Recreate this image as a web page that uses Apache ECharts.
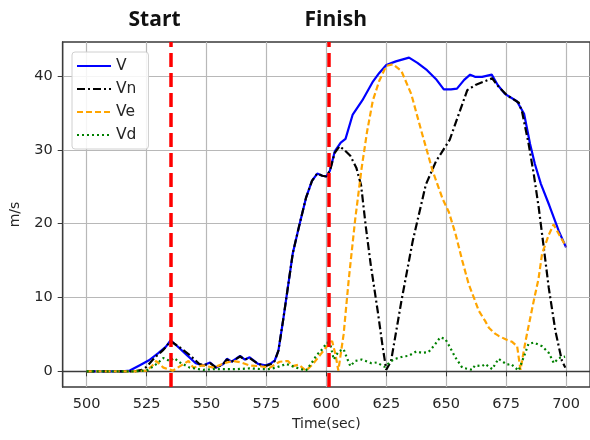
<!DOCTYPE html>
<html>
<head>
<meta charset="utf-8">
<script src="https://cdn.jsdelivr.net/npm/echarts@6/dist/echarts.min.js"></script>
<style>html,body{margin:0;padding:0;background:#fff}#c{width:590px;height:440px}</style>
</head>
<body>
<div id="c"></div>
<script>
// ---- data ----
const xTicks = [500, 525, 550, 575, 600, 625, 650, 675, 700];
const yTicks = [0, 10, 20, 30, 40];
const eventNames = ['Start', 'Finish'];
const eventTimes = [535, 601];

const tV = [500,505,510,515,518,522,526,530,533,535,537.5,541.5,545.5,548.5,551.5,554,557,558.5,560.5,564,566,568,571.5,574.5,577,578.5,580,582,584,586,588.5,591.5,594,596.2,598.3,600,601.5,603.5,606,608,611,615,619.5,622,625,629,634.5,638,642,646,649,652,654.5,657.5,660,662,665,669,671.5,674.5,679.5,682.5,685,687,689.5,693,697,700];
const V  = [0,0,0,0,0.1,0.8,1.5,2.5,3.3,4.2,3.5,2.3,1.1,0.8,1.2,0.5,1.0,1.7,1.3,2.1,1.6,1.9,1.0,0.8,1.1,1.5,2.8,7,11.5,16,19.5,23.5,25.8,26.8,26.5,26.4,27.2,29.8,31,31.5,34.8,36.7,39.3,40.4,41.5,42.0,42.5,41.8,40.8,39.5,38.2,38.2,38.3,39.5,40.2,39.9,39.9,40.2,38.8,37.6,36.6,34.9,30.8,28.1,25.4,22.5,19,16.8];

const tVn = [500,505,510,515,520,523,525,528.5,532,535,539,543,547,549,551.5,554,557,558.5,560.5,564,566,568,571.5,574.5,577,578.5,580,582,584,586,588.5,591.5,594,596.2,598.3,600,601.5,603.5,605.5,607.5,610,612.5,614.5,616.5,618.5,621.5,623.5,625,627,631.3,636,641.5,645.8,648,651.5,655.3,658.8,662.2,666,669.2,672,675.4,680.3,681.7,684.4,686.5,688.6,690.7,692.8,695.6,698.3,699.7];
const Vn  = [0,0,0,0,0,0.2,0.6,1.9,2.9,4.1,3.2,2.2,1.0,0.8,1.1,0.5,1.0,1.6,1.3,2.0,1.6,1.8,1.0,0.7,1.0,1.4,2.8,7,11.5,16,19.5,23.5,25.8,26.8,26.5,26.4,27.2,29.6,30.5,30.0,29.2,27.6,25.2,19.5,14.5,8.0,3.3,0.2,1.4,9.5,17.6,25.3,28.5,29.6,31.4,34.9,38.1,38.8,39.3,39.7,38.5,37.4,36.4,35.1,30.8,26.8,22.2,16.8,11.3,5.4,1.4,0.5];

const tVe = [500,505,510,515,520,525,527.5,529,532,536,539.5,542.5,544.5,548.5,553,557.5,561,564.5,568,572,576.5,580.5,584,586,588.5,591.5,594.2,597.6,600.5,602.4,603.8,605,607.2,609.3,612,614.7,617,619.4,622,625,627.8,631.3,635.4,639.6,644.4,648.6,651.1,653.9,656.7,659.4,662,663.6,666.3,667.8,670.4,671.9,675,677.5,679.6,681,683.1,686.5,688.5,690,692.8,694.8,697,700];
const Ve  = [0,0,0,0,0,0.1,0.8,1.4,0.5,0.1,0.8,1.4,0.5,0.8,0.5,1.1,1.4,1.2,0.8,0.7,0.5,1.3,1.4,0.7,0.9,0.1,0.9,2.3,3.5,4.1,2.3,0.1,5,12.3,20.5,27.5,32.5,36.7,39.3,41.4,41.6,40.7,37.6,32.6,27.1,23.3,21.6,18.6,15,11.8,9.6,8.2,6.8,5.9,5.1,4.8,4.3,4.0,3.4,0.2,4.1,9.5,12.5,15.9,18.5,19.9,18.6,16.9];

const tVd = [500,505,510,515,520,525,527,529.2,532,534.7,536.5,538.9,543,548.6,553,558,563,568,573,576,579,583.3,587.5,591.5,594,596,598.3,600.3,601.7,603.1,605.1,607.2,608.6,610,612,614.7,618.8,621,624.3,627.1,628.8,632,634.3,637.5,640,642.6,645,647.5,649.6,651,653.8,656.7,660.8,662,665,666.3,669.2,671.8,675.4,677,680.2,683,684.3,686.5,690,692.8,694.9,697,699.6];
const Vd  = [0,0,0,0,0,0.1,0.5,1,1.8,1.4,1.8,1.2,0.5,0.2,0.3,0.3,0.3,0.4,0.3,0.3,0.5,1,0.5,0.1,1.2,2.2,3.0,3.9,3.6,1.6,2.7,3.0,1.8,0.7,1.4,1.6,1.1,1.2,0.6,1.4,1.7,2,2.1,2.7,2.5,2.6,3.5,4.6,4.4,3.6,1.9,0.5,0.2,0.8,0.7,1.0,0.3,1.7,0.9,1.0,0.1,2.5,3.7,3.9,3.4,2.5,1.1,1.8,2.0];

const zip = (t, v) => t.map((x, i) => [x, v[i]]);

const chart = echarts.init(document.getElementById('c'), null, {renderer: 'canvas'});
const font = 'DejaVu Sans';
const dark = '#262626';

chart.setOption({
  animation: false,
  backgroundColor: '#fff',
  grid: {left: 62.7, top: 42, width: 528, height: 345, show: true, borderColor: '#3a3a3a', borderWidth: 1.3, backgroundColor: 'transparent'},
  legend: {
    data: ['V', 'Vn', 'Ve', 'Vd'],
    orient: 'vertical', left: 72, top: 52,
    itemWidth: 34, itemHeight: 12, itemGap: 7,
    padding: [6, 12, 6, 4],
    itemStyle: {opacity: 0},
    backgroundColor: 'rgba(255,255,255,0.85)', borderColor: '#d0d0d0', borderWidth: 1, borderRadius: 3,
    textStyle: {fontFamily: font, fontSize: 15.5, color: dark}
  },
  xAxis: {
    type: 'value', min: 490, max: 710,
    name: 'Time(sec)', nameLocation: 'middle', nameGap: 30,
    nameTextStyle: {fontFamily: font, fontSize: 14, color: dark},
    axisLine: {show: true, lineStyle: {color: '#3a3a3a', width: 1.3}},
    axisTick: {show: true, inside: false, length: 5, customValues: xTicks, lineStyle: {color: '#3a3a3a'}},
    axisLabel: {customValues: xTicks, margin: 10, fontFamily: font, fontSize: 14.5, color: dark},
    splitLine: {show: true, customValues: xTicks, lineStyle: {color: '#b8b8b8', width: 1.2}}
  },
  yAxis: {
    type: 'value', min: -2.125, max: 44.625,
    name: 'm/s', nameLocation: 'middle', nameGap: 40,
    nameTextStyle: {fontFamily: font, fontSize: 14, color: dark},
    axisLine: {show: true, lineStyle: {color: '#3a3a3a', width: 1.3}},
    axisTick: {show: true, inside: false, length: 5, customValues: yTicks, lineStyle: {color: '#3a3a3a'}},
    axisLabel: {customValues: yTicks, margin: 10, fontFamily: font, fontSize: 14.5, color: dark},
    splitLine: {show: true, customValues: yTicks, lineStyle: {color: '#b8b8b8', width: 1.2}}
  },
  series: [
    {name: 'V', type: 'line', data: zip(tV, V), symbol: 'none', showSymbol: false,
     lineStyle: {color: '#0000ff', width: 2.2}, itemStyle: {color: '#0000ff'}},
    {name: 'Vn', type: 'line', data: zip(tVn, Vn), symbol: 'none', showSymbol: false,
     lineStyle: {color: '#000000', width: 2.2, type: [8, 3, 2, 3]}, itemStyle: {color: '#000000'}},
    {name: 'Ve', type: 'line', data: zip(tVe, Ve), symbol: 'none', showSymbol: false,
     lineStyle: {color: '#ffa500', width: 2.2, type: [6, 3]}, itemStyle: {color: '#ffa500'}},
    {name: 'Vd', type: 'line', data: zip(tVd, Vd), symbol: 'none', showSymbol: false,
     lineStyle: {color: '#008000', width: 2.2, type: [2, 3]}, itemStyle: {color: '#008000'},
     markLine: {
       silent: true, symbol: ['none', 'none'], animation: false,
       lineStyle: {color: '#ff0000', width: 3.5, type: [14, 6]},
       label: {show: true, position: 'end', distance: 11, formatter: p => p.name,
               fontFamily: 'Open Sans', fontWeight: 'bold', fontSize: 21, color: '#111'},
       data: eventTimes.map((t, i) => ({name: eventNames[i], xAxis: t,
              label: {offset: [i === 0 ? -16 : 7, 0]}}))
     }}
  ]
});
</script>
</body>
</html>
